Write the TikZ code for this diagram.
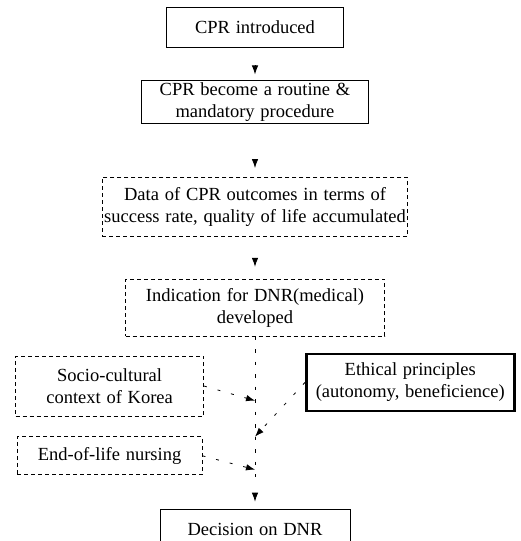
\documentclass[tikz,border=0pt]{standalone}
\usepackage{fontspec}
\setmainfont{Liberation Serif}[WordSpace=1.25]
\usepackage{tikz}
\usetikzlibrary{positioning,arrows.meta}

\tikzset{
  solidbox/.style={draw, rectangle, line width=0.8pt, align=center, inner sep=2pt},
  dashbox/.style={draw, rectangle, line width=0.8pt, dash pattern=on 4pt off 3pt, align=center, inner sep=2pt},
  thickbox/.style={draw, rectangle, line width=2.6pt, align=center, inner sep=2pt},
  headonly/.style={-{Latex[length=9pt,width=6.5pt]}, line width=0.8pt},
  feed/.style={-{Latex[length=9pt,width=6.5pt]}, line width=0.8pt, dash pattern=on 3pt off 11pt},
  trunk/.style={line width=0.8pt, dash pattern=on 3.5pt off 9pt}
}

\begin{document}
\begin{tikzpicture}[font=\fontsize{18.5}{22}\selectfont]
\useasboundingbox (0pt,0pt) rectangle (520pt,-541pt);

% Main column
\node[solidbox, minimum width=177pt, minimum height=40pt] (cpr) at (255pt,-27pt) {CPR introduced};
\node[solidbox, below=33pt of cpr, minimum width=227pt, minimum height=42pt] (routine) {CPR become a routine \&\\mandatory procedure};
\node[dashbox, below=53pt of routine, minimum width=286pt, minimum height=59pt] (data) {Data of CPR outcomes in terms of\\success rate, quality of life accumulated};
\node[dashbox, below=42pt of data, minimum width=259pt, minimum height=57pt] (indic) {Indication for DNR(medical)\\developed};

% Side factors
\node[dashbox, below left=19pt and 51pt of indic.south, minimum width=188pt, minimum height=60pt] (socio) {Socio-cultural\\context of Korea};
\node[thickbox, below right=16pt and 50pt of indic.south, minimum width=208pt, minimum height=57pt] (ethic) {Ethical principles\\(autonomy, beneficience)};
\node[dashbox, below=20pt of socio, minimum width=185pt, minimum height=38pt] (eol) {End-of-life nursing};

% Outcome
\node[solidbox, below=172pt of indic, minimum width=190pt, minimum height=40pt] (dnr) {Decision on DNR};

% Joins on the trunk
\coordinate[below=64pt of indic.south] (j1);
\coordinate[below=100pt of indic.south] (j2);
\coordinate[below=133pt of indic.south] (j3);
\coordinate[below=140pt of indic.south] (jend);

% Connections
\draw[headonly, shorten <=18pt, shorten >=6pt] (cpr) -- (routine);
\draw[headonly, shorten <=35pt, shorten >=9pt] (routine) -- (data);
\draw[headonly, shorten <=21pt, shorten >=12pt] (data) -- (indic);

\draw[trunk] (indic.south) -- (jend);
\draw[feed] (socio.east) -- (j1);
\draw[feed] (ethic.west) -- (j2);
\draw[feed] (eol.east) -- (j3);
\draw[headonly, shorten <=16pt, shorten >=7pt] (jend) -- (dnr);
\end{tikzpicture}
\end{document}
